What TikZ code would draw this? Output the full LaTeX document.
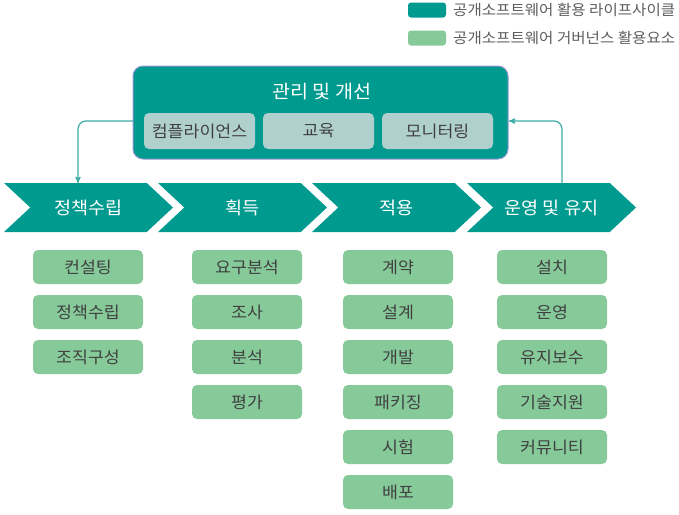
\documentclass[tikz,border=0pt]{standalone}
\usepackage{fontspec}
\setmainfont{Noto Sans CJK KR}[FakeStretch=1.06]
\usetikzlibrary{arrows,shapes.symbols}
\definecolor{lifecycle}{RGB}{0,154,143}
\definecolor{governance}{RGB}{134,202,154}
\definecolor{subbox}{RGB}{176,208,206}
\definecolor{frame}{RGB}{150,150,210}
\definecolor{flowline}{RGB}{60,172,164}
\definecolor{ink}{RGB}{64,64,64}

\begin{document}
\begin{tikzpicture}[x=1pt,y=-1pt,>=stealth',
  phase node/.style={signal,signal to=east,signal from=west,signal pointer angle=86,fill=lifecycle,minimum width=169,minimum height=49,inner sep=0,text=white,font=\fontsize{17.5}{20}\selectfont},
  item node/.style={rectangle,rounded corners=5,fill=governance,minimum width=110,minimum height=34,inner sep=0,text=ink,font=\fontsize{16.3}{19}\selectfont},
  sub node/.style={rectangle,rounded corners=5,fill=subbox,minimum width=111,minimum height=36,inner sep=0,text=ink,font=\fontsize{16.3}{19}\selectfont},
  key node/.style={rectangle,rounded corners=3,minimum width=38,minimum height=15,inner sep=0},
  key text/.style={anchor=west,inner sep=0,text=ink!85,font=\fontsize{14.7}{17}\selectfont},
  flow/.style={->,draw=flowline,line width=1.2pt,rounded corners=8}]
  \useasboundingbox (0,0) rectangle (679,514);

  % legend
  \node[key node,fill=lifecycle] (k1) at (427,10) {};
  \node[key node,fill=governance] (k2) at (427,38) {};
  \node[key text] (k1t) at (453,10) {공개소프트웨어 활용 라이프사이클};
  \node[key text] (k2t) at (453,38) {공개소프트웨어 거버넌스 활용요소};

  % management box
  \node[rectangle,rounded corners=10,fill=lifecycle,draw=frame,line width=1,minimum width=375,minimum height=93] (mgmt) at (320.5,112.5) {};
  \node[text=white,font=\fontsize{18.5}{21}\selectfont] (mgmtt) at (322,92) {관리 및 개선};
  \node[sub node] (comp) at (199.5,131) {컴플라이언스};
  \node[sub node] (edu) at (318.5,131) {교육};
  \node[sub node] (mon) at (437.5,131) {모니터링};

  % phases
  \node[phase node] (plan) at (88.5,207.5) {정책수립};
  \node[phase node] (acq) at (242.5,207.5) {획득};
  \node[phase node] (app) at (396.5,207.5) {적용};
  \node[phase node] (ops) at (551.5,207.5) {운영 및 유지};

  \coordinate (out) at (133,121);
  \coordinate (down) at (78,183);
  \coordinate (up) at (562,183);
  \coordinate (back) at (509,121);
  \draw[flow] (out) -| (down);
  \draw[flow] (up) |- (back);

  % elements
  \node[item node] (plan1) at (88,267) {컨설팅};
  \node[item node] (plan2) at (88,312) {정책수립};
  \node[item node] (plan3) at (88,357) {조직구성};

  \node[item node] (acq1) at (247,267) {요구분석};
  \node[item node] (acq2) at (247,312) {조사};
  \node[item node] (acq3) at (247,357) {분석};
  \node[item node] (acq4) at (247,402) {평가};

  \node[item node] (app1) at (398,267) {계약};
  \node[item node] (app2) at (398,312) {설계};
  \node[item node] (app3) at (398,357) {개발};
  \node[item node] (app4) at (398,402) {패키징};
  \node[item node] (app5) at (398,447) {시험};
  \node[item node] (app6) at (398,492) {배포};

  \node[item node] (ops1) at (552,267) {설치};
  \node[item node] (ops2) at (552,312) {운영};
  \node[item node] (ops3) at (552,357) {유지보수};
  \node[item node] (ops4) at (552,402) {기술지원};
  \node[item node] (ops5) at (552,447) {커뮤니티};
\end{tikzpicture}
\end{document}
